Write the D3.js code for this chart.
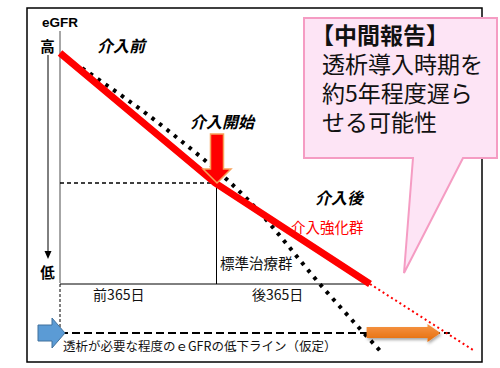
<!DOCTYPE html>
<html><head><meta charset="utf-8">
<script src="https://cdn.jsdelivr.net/npm/d3@7"></script>
<style>
html,body{margin:0;padding:0;background:#fff;}
svg{display:block;}
text{font-family:"Noto Sans CJK JP","Noto Sans",sans-serif;}
</style></head>
<body><svg id="c" width="500" height="368"></svg>
<script>
// ---- data (x: days relative to intervention start, y: relative eGFR, 0 = dialysis threshold) ----
const periodLabels = ["前365日", "後365日"];
const periodLabelDays = [-287, 87];
const periodBounds = [-365, 0, 365];
const intensiveDays = [-365, 0, 365];
const intensiveEgfr = [100, 53.6, 17.5];
const projectedDays = [365, 608];
const projectedEgfr = [17.5, -6.1];
const standardDays = [-313, -112, 78, 259, 389];
const standardEgfr = [94.6, 72.5, 47.5, 15.4, -6.4];
const dialysisThreshold = 0;
const dialysisLineEndDay = 553;
const delayFromDay = 357;
const delayToDay = 531;
const calloutLines = ["【中間報告】", "透析導入時期を", "約5年程度遅ら", "せる可能性"];

const svg = d3.select("#c");
const x = d3.scaleLinear().domain([-365, 365]).range([60, 370]);
const y = d3.scaleLinear().domain([0, 100]).range([333, 53]);

// outer frame
svg.append("rect").attr("x", 27).attr("y", 8).attr("width", 455).attr("height", 354)
  .attr("fill", "#fff").attr("stroke", "#000").attr("stroke-width", 1.5);

// y axis (gray)
svg.append("line").attr("x1", x(-365)).attr("x2", x(-365)).attr("y1", 31).attr("y2", y(17.5) - 1)
  .attr("stroke", "#888").attr("stroke-width", 1.5);
// dashed continuation down to threshold
svg.append("line").attr("x1", x(-365)).attr("x2", x(-365)).attr("y1", y(17.5)).attr("y2", y(dialysisThreshold))
  .attr("stroke", "#000").attr("stroke-width", 1).attr("stroke-dasharray", "3,2");

// high -> low arrow
svg.append("defs");
svg.append("line").attr("x1", 48).attr("x2", 48).attr("y1", 55).attr("y2", 252)
  .attr("stroke", "#000").attr("stroke-width", 1);
svg.append("path").attr("d", d3.line()([[44.5, 251], [51.5, 251], [48, 259]])).attr("fill", "#000");

svg.append("text").attr("x", 60).attr("y", 27).attr("text-anchor", "middle")
  .attr("font-weight", "bold").attr("font-size", 13.5).text("eGFR")
  .style("font-family", "Liberation Sans, Arial, sans-serif");
svg.append("text").attr("x", 47.5).attr("y", 52).attr("text-anchor", "middle")
  .attr("font-weight", "bold").attr("font-size", 14.5).text("高");
svg.append("text").attr("x", 47.5).attr("y", 278).attr("text-anchor", "middle")
  .attr("font-weight", "bold").attr("font-size", 14.5).text("低");

// period baseline & divider
svg.append("line").attr("x1", x(periodBounds[0])).attr("x2", x(periodBounds[2]))
  .attr("y1", y(17.5)).attr("y2", y(17.5)).attr("stroke", "#000").attr("stroke-width", 1);
svg.append("line").attr("x1", x(periodBounds[1]) + 1.5).attr("x2", x(periodBounds[1]) + 1.5)
  .attr("y1", y(intensiveEgfr[1])).attr("y2", y(17.5)).attr("stroke", "#000").attr("stroke-width", 1);
// horizontal dashed at intervention level
svg.append("line").attr("x1", x(-365)).attr("x2", x(0)).attr("y1", y(intensiveEgfr[1])).attr("y2", y(intensiveEgfr[1]))
  .attr("stroke", "#000").attr("stroke-width", 1.5).attr("stroke-dasharray", "4,3");

periodLabels.forEach((t, i) => {
  svg.append("text").attr("x", x(periodLabelDays[i])).attr("y", 300).attr("font-size", 14).attr("fill", "#111").text(t);
});

// dialysis threshold dashed line
svg.append("line").attr("x1", x(-365)).attr("x2", x(dialysisLineEndDay))
  .attr("y1", y(dialysisThreshold)).attr("y2", y(dialysisThreshold))
  .attr("stroke", "#000").attr("stroke-width", 2).attr("stroke-dasharray", "8,4");

// standard treatment (black dotted)
const lineGen = d3.line().x(d => x(d[0])).y(d => y(d[1]));
svg.append("path").datum(standardDays.map((d, i) => [d, standardEgfr[i]]))
  .attr("d", lineGen.curve(d3.curveMonotoneX)).attr("fill", "none")
  .attr("stroke", "#000").attr("stroke-width", 4).attr("stroke-dasharray", "3.5,6");

// projected intensive (red thin dotted)
svg.append("path").datum(projectedDays.map((d, i) => [d, projectedEgfr[i]]))
  .attr("d", d3.line().x(d => x(d[0])).y(d => y(d[1]))).attr("fill", "none")
  .attr("stroke", "#ff0000").attr("stroke-width", 2).attr("stroke-dasharray", "2,3");

// intensive group (thick red)
svg.append("path").datum(intensiveDays.map((d, i) => [d, intensiveEgfr[i]]))
  .attr("d", d3.line().x(d => x(d[0])).y(d => y(d[1]))).attr("fill", "none")
  .attr("stroke", "#ff0000").attr("stroke-width", 7).attr("stroke-linejoin", "round");

// intervention start arrow (red with orange edge)
const ax = x(0) + 2, tipY = y(intensiveEgfr[1]);
svg.append("path").attr("d",
  `M${ax - 6.5},134 H${ax + 6.5} V${tipY - 14} H${ax + 14} L${ax},${tipY} L${ax - 14},${tipY - 14} H${ax - 6.5} Z`)
  .attr("fill", "#ff0000").attr("stroke", "#f7a35c").attr("stroke-width", 1.5);

// blue arrow at threshold
const ty = y(dialysisThreshold);
svg.append("path").attr("d",
  `M38,${ty - 8} H52 V${ty - 15} L65,${ty} L52,${ty + 15} V${ty + 8} H38 Z`)
  .attr("fill", "#5b9bd5").attr("stroke", "#41719c").attr("stroke-width", 1);

// orange delay arrow
const defs = svg.select("defs");
const f = defs.append("filter").attr("id", "sh").attr("x", "-20%").attr("y", "-50%").attr("width", "140%").attr("height", "200%");
f.append("feGaussianBlur").attr("in", "SourceAlpha").attr("stdDeviation", 1.5);
f.append("feOffset").attr("dx", 1).attr("dy", 2).attr("result", "b");
f.append("feFlood").attr("flood-color", "#000").attr("flood-opacity", 0.35);
f.append("feComposite").attr("in2", "b").attr("operator", "in");
const fm = f.append("feMerge"); fm.append("feMergeNode"); fm.append("feMergeNode").attr("in", "SourceGraphic");
const og = defs.append("linearGradient").attr("id", "og").attr("x1", 0).attr("y1", 0).attr("x2", 0).attr("y2", 1);
og.append("stop").attr("offset", "0%").attr("stop-color", "#f79646");
og.append("stop").attr("offset", "100%").attr("stop-color", "#e46c0a");
const ox0 = x(delayFromDay), ox1 = x(delayToDay);
svg.append("path").attr("d",
  `M${ox0},${ty - 6} H${ox1 - 13} V${ty - 9} L${ox1},${ty} L${ox1 - 13},${ty + 9} V${ty + 5} H${ox0} Z`)
  .attr("fill", "url(#og)").attr("filter", "url(#sh)");

// annotation labels
svg.append("text").attr("x", 97).attr("y", 52).attr("font-size", 16).attr("font-weight", "bold").attr("font-style", "italic").text("介入前");
svg.append("text").attr("x", 190).attr("y", 128).attr("font-size", 16).attr("font-weight", "bold").attr("font-style", "italic").text("介入開始");
svg.append("text").attr("x", 315).attr("y", 204).attr("font-size", 16).attr("font-weight", "bold").attr("font-style", "italic").text("介入後");
svg.append("text").attr("x", 291).attr("y", 233).attr("font-size", 14.5).attr("fill", "#ff0000").text("介入強化群");
svg.append("text").attr("x", 220).attr("y", 269).attr("font-size", 14.5).attr("fill", "#111").text("標準治療群");
svg.append("text").attr("x", 63).attr("y", 351).attr("font-size", 12.5).attr("fill", "#111").text("透析が必要な程度のｅGFRの低下ライン（仮定）");

// callout
svg.append("path").attr("d", "M304,18 H497 V158 H463 L404,273 L413,158 H304 Z")
  .attr("fill", "#fde4f5").attr("stroke", "#f59cc3").attr("stroke-width", 2);
calloutLines.forEach((t, i) => {
  svg.append("text").attr("x", i === 0 ? 311 : 322).attr("y", 44 + i * 29)
    .attr("font-size", 23).attr("font-weight", i === 0 ? "bold" : "normal").attr("fill", "#111").text(t);
});
</script></body></html>
